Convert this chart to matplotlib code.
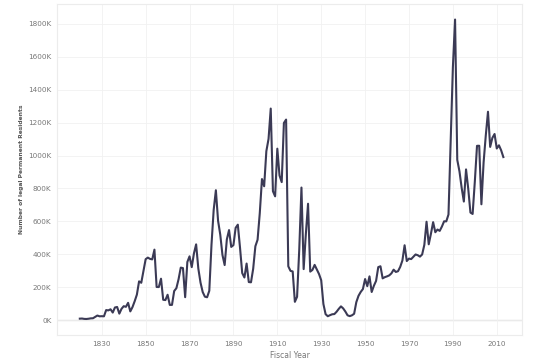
import matplotlib.pyplot as plt
from matplotlib.ticker import FuncFormatter

# Fiscal years and number of legal permanent residents
years = list(range(1820, 2014))
residents = [
    8385, 9127, 6911, 6354, 7912, 10199, 10837, 18875, 27382, 22520,
    23322, 22633, 60482, 58640, 65365, 45374, 76242, 79340, 38914, 68069,
    84066, 80289, 104565, 52496, 78615, 114371, 154416, 234968, 226527, 297024,
    369980, 379466, 371603, 368645, 427833, 200877, 200436, 251306, 123126, 121282,
    153640, 91918, 91985, 176282, 193418, 248120, 318568, 315722, 138840, 352768,
    387203, 321350, 404806, 459803, 313339, 227498, 169986, 141857, 138469, 177826,
    457257, 669431, 788992, 603322, 518592, 395346, 334203, 490109, 546889, 444427,
    455302, 560319, 579663, 439730, 285631, 258536, 343267, 230832, 229299, 311715,
    448572, 487918, 648743, 857046, 812870, 1026499, 1100735, 1285349, 782870, 751786,
    1041570, 878587, 838172, 1197892, 1218480, 326700, 298826, 295403, 110618, 141132,
    430001, 805228, 309556, 522919, 706896, 294314, 304488, 335175, 307255, 279678,
    241700, 97139, 35576, 23068, 29470, 34956, 36329, 50244, 67895, 82998,
    70756, 51776, 28781, 23725, 28551, 38119, 108721, 147292, 170570, 188317,
    249187, 205717, 265520, 170434, 208177, 237790, 321625, 326867, 253265, 260686,
    265398, 271344, 283763, 306260, 292248, 296697, 323040, 361972, 454448, 358579,
    373326, 370478, 384685, 398515, 393919, 385378, 398613, 457454, 597525, 460348,
    524295, 595014, 533624, 550052, 541811, 568149, 600027, 599889, 641346, 1090172,
    1535872, 1826595, 973445, 903916, 803993, 720177, 915560, 797847, 653206, 644787,
    841002, 1058902, 1059356, 703542, 957883, 1122257, 1266129, 1052415, 1107126, 1130818,
    1042625, 1062040, 1031631, 990553,
]

x_ticks = [1830, 1850, 1870, 1890, 1910, 1930, 1950, 1970, 1990, 2010]
y_ticks = list(range(0, 1800001, 200000))

fig = plt.figure(figsize=(5.4, 3.59), dpi=100)
ax = fig.add_axes([57 / 540, 24 / 359, 465 / 540, 331 / 359])

ax.plot(years, residents, color='#3b3a55', linewidth=1.5, solid_joinstyle='round')
ax.axhline(0, color='#c8c8c8', linewidth=0.9, zorder=0)

ax.set_xlim(1809.6, 2021.5)
ax.set_ylim(-91000, 1921000)
ax.set_xticks(x_ticks)
ax.set_yticks(y_ticks)
ax.yaxis.set_major_formatter(FuncFormatter(lambda v, p: f'{int(v / 1000)}K'))

ax.grid(True, color='#f1f1f1', linewidth=0.6)
ax.set_axisbelow(True)
for s in ax.spines.values():
    s.set_color('#ececec')
    s.set_linewidth(0.8)
ax.tick_params(length=0, labelsize=5.2, labelcolor='#777777', pad=4)

ax.set_xlabel('Fiscal Year', fontsize=5.5, color='#777777', labelpad=3)
ax.set_ylabel('Number of legal Permanent Residents', fontsize=4.3,
              color='#555555', fontweight='bold', labelpad=3)

fig.savefig('out.png', dpi=100)
